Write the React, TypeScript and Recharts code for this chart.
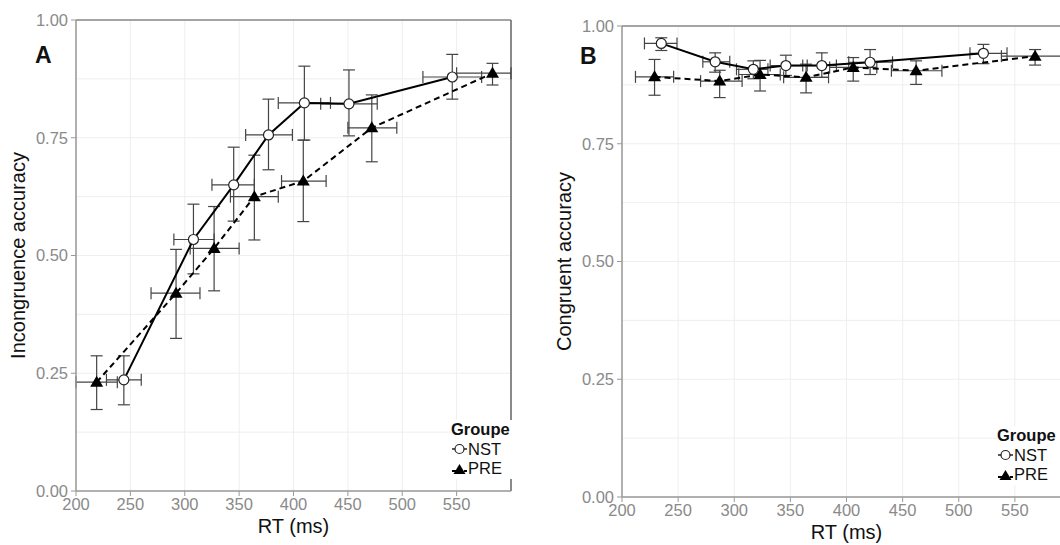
import {
  ScatterChart,
  Scatter,
  XAxis,
  YAxis,
  CartesianGrid,
  ErrorBar,
  ReferenceLine,
  Legend,
} from 'recharts'

const FONT = '"Liberation Sans", Arial, sans-serif'

// axis ticks and grid breaks (major + minor, as ggplot draws them)
const RT_TICKS = [200, 250, 300, 350, 400, 450, 500, 550]
const ACC_TICKS = [0, 0.25, 0.5, 0.75, 1]
const RT_GRID = [200, 225, 250, 275, 300, 325, 350, 375, 400, 425, 450, 475, 500, 525, 550, 575, 600]
const ACC_GRID = [0, 0.125, 0.25, 0.375, 0.5, 0.625, 0.75, 0.875, 1]

// Panel A: incongruent trials
const A_NST_RT = [244, 308, 345, 377, 410, 451, 546]
const A_NST_ACC = [0.236, 0.534, 0.65, 0.756, 0.824, 0.822, 0.879]
const A_NST_ACC_LO = [0.183, 0.461, 0.573, 0.682, 0.745, 0.754, 0.832]
const A_NST_ACC_HI = [0.287, 0.609, 0.73, 0.832, 0.902, 0.894, 0.927]
const A_NST_RT_LO = [228, 290, 325, 356, 386, 425, 519]
const A_NST_RT_HI = [260, 327, 364, 399, 434, 477, 573]

const A_PRE_RT = [219, 292, 327, 364, 409, 472, 583]
const A_PRE_ACC = [0.231, 0.42, 0.515, 0.625, 0.658, 0.771, 0.887]
const A_PRE_ACC_LO = [0.173, 0.324, 0.425, 0.533, 0.572, 0.699, 0.862]
const A_PRE_ACC_HI = [0.287, 0.513, 0.604, 0.713, 0.745, 0.841, 0.908]
const A_PRE_RT_LO = [200, 269, 305, 342, 389, 450, 550]
const A_PRE_RT_HI = [238, 314, 350, 386, 430, 495, 600]

// Panel B: congruent trials
const B_NST_RT = [235, 283, 317, 346, 378, 421, 522]
const B_NST_ACC = [0.963, 0.924, 0.908, 0.916, 0.916, 0.923, 0.942]
const B_NST_ACC_LO = [0.948, 0.902, 0.888, 0.895, 0.891, 0.897, 0.92]
const B_NST_ACC_HI = [0.975, 0.943, 0.926, 0.938, 0.943, 0.95, 0.961]
const B_NST_RT_LO = [220, 272, 302, 332, 365, 402, 510]
const B_NST_RT_HI = [249, 296, 330, 361, 391, 441, 543]

const B_PRE_RT = [229, 287, 323, 364, 406, 462, 568]
const B_PRE_ACC = [0.892, 0.883, 0.897, 0.891, 0.912, 0.905, 0.936]
const B_PRE_ACC_LO = [0.853, 0.848, 0.862, 0.858, 0.883, 0.876, 0.917]
const B_PRE_ACC_HI = [0.929, 0.906, 0.927, 0.919, 0.933, 0.926, 0.95]
const B_PRE_RT_LO = [212, 270, 304, 344, 385, 440, 538]
const B_PRE_RT_HI = [246, 307, 341, 384, 427, 485, 600]

function rows(rt: number[], acc: number[], lo: number[], hi: number[], rtLo: number[], rtHi: number[]) {
  return rt.map((x, i) => ({
    x,
    y: acc[i],
    ey: [acc[i] - lo[i], hi[i] - acc[i]],
    ex: [x - rtLo[i], rtHi[i] - x],
  }))
}

const OpenCircle = (p: any) => (
  <circle cx={p.cx} cy={p.cy} r={5} fill="#fff" stroke="#222" strokeWidth={1.2} />
)

const Triangle = (p: any) => (
  <polygon
    points={`${p.cx},${p.cy - 6.5} ${p.cx - 6.5},${p.cy + 4.5} ${p.cx + 6.5},${p.cy + 4.5}`}
    fill="#000"
  />
)

function GroupLegend() {
  return (
    <div style={{ fontFamily: FONT, fontSize: 16.5, lineHeight: '19.5px', color: '#111', background: '#fff' }}>
      <div style={{ fontWeight: 'bold' }}>Groupe</div>
      <div style={{ display: 'flex', alignItems: 'center' }}>
        <svg width={17} height={14}>
          <line x1={1} y1={7} x2={16} y2={7} stroke="#222" strokeWidth={1.5} />
          <circle cx={8.5} cy={7} r={4.5} fill="#fff" stroke="#222" strokeWidth={1.2} />
        </svg>
        <span>NST</span>
      </div>
      <div style={{ display: 'flex', alignItems: 'center' }}>
        <svg width={17} height={14}>
          <line x1={1} y1={9} x2={16} y2={9} stroke="#000" strokeWidth={2} strokeDasharray="4 2" />
          <polygon points="8.5,2 2.5,12 14.5,12" fill="#000" />
        </svg>
        <span>PRE</span>
      </div>
    </div>
  )
}

function Panel({
  left,
  width,
  margin,
  yLabel,
  nst,
  pre,
  legendTop,
}: {
  left: number
  width: number
  margin: { top: number; right: number; bottom: number; left: number }
  yLabel: string
  nst: any[]
  pre: any[]
  legendTop: number
}) {
  return (
    <div style={{ position: 'absolute', left, top: 0 }}>
      <ScatterChart width={width} height={545} margin={margin}>
        <CartesianGrid horizontalValues={ACC_GRID} verticalValues={RT_GRID} stroke="#eeeeee" />
        <XAxis
          type="number"
          dataKey="x"
          domain={[200, 600]}
          ticks={RT_TICKS}
          allowDataOverflow
          height={45}
          tickSize={5}
          tickMargin={2}
          tick={{ fontSize: 16.5, fill: '#8a8a8a', fontFamily: FONT }}
          tickLine={{ stroke: '#999' }}
          axisLine={{ stroke: '#999', strokeWidth: 1.5 }}
          label={{
            value: 'RT (ms)',
            position: 'insideBottom',
            offset: 3,
            style: { fontSize: 20, fill: '#111', fontFamily: FONT },
          }}
        />
        <YAxis
          type="number"
          dataKey="y"
          domain={[0, 1]}
          ticks={ACC_TICKS}
          allowDataOverflow
          width={76}
          tickSize={5}
          tickMargin={3}
          tickFormatter={(v: number) => v.toFixed(2)}
          tick={{ fontSize: 16.5, fill: '#8a8a8a', fontFamily: FONT }}
          tickLine={{ stroke: '#999' }}
          axisLine={{ stroke: '#999', strokeWidth: 1.5 }}
          label={{
            value: yLabel,
            angle: -90,
            position: 'insideLeft',
            offset: 18,
            style: { textAnchor: 'middle', fontSize: 20, fill: '#111', fontFamily: FONT },
          }}
        />
        <ReferenceLine y={1} stroke="#888" strokeWidth={1.5} />
        <ReferenceLine x={600} stroke="#666" strokeWidth={1.5} />
        <Scatter
          name="PRE"
          data={pre}
          shape={Triangle}
          line={{ stroke: '#000', strokeWidth: 2, strokeDasharray: '6 4' }}
          lineJointType="linear"
          isAnimationActive={false}
        >
          <ErrorBar dataKey="ey" direction="y" width={6} stroke="#444" strokeWidth={1.2} isAnimationActive={false} />
          <ErrorBar dataKey="ex" direction="x" width={6} stroke="#444" strokeWidth={1.2} isAnimationActive={false} />
        </Scatter>
        <Scatter
          name="NST"
          data={nst}
          shape={OpenCircle}
          line={{ stroke: '#000', strokeWidth: 2 }}
          lineJointType="linear"
          isAnimationActive={false}
        >
          <ErrorBar dataKey="ey" direction="y" width={6} stroke="#444" strokeWidth={1.2} isAnimationActive={false} />
          <ErrorBar dataKey="ex" direction="x" width={6} stroke="#444" strokeWidth={1.2} isAnimationActive={false} />
        </Scatter>
        <Legend
          layout="horizontal"
          verticalAlign="middle"
          align="center"
          content={() => <GroupLegend />}
          wrapperStyle={{ left: 451, top: legendTop, width: 72, height: 60 }}
        />
      </ScatterChart>
    </div>
  )
}

export default function App() {
  const aNst = rows(A_NST_RT, A_NST_ACC, A_NST_ACC_LO, A_NST_ACC_HI, A_NST_RT_LO, A_NST_RT_HI)
  const aPre = rows(A_PRE_RT, A_PRE_ACC, A_PRE_ACC_LO, A_PRE_ACC_HI, A_PRE_RT_LO, A_PRE_RT_HI)
  const bNst = rows(B_NST_RT, B_NST_ACC, B_NST_ACC_LO, B_NST_ACC_HI, B_NST_RT_LO, B_NST_RT_HI)
  const bPre = rows(B_PRE_RT, B_PRE_ACC, B_PRE_ACC_LO, B_PRE_ACC_HI, B_PRE_RT_LO, B_PRE_RT_HI)

  const letter = { position: 'absolute' as const, fontFamily: FONT, fontWeight: 'bold' as const, fontSize: 23, lineHeight: 1, color: '#111' }

  return (
    <div style={{ position: 'fixed', left: 0, top: 0, width: 1060, height: 545, overflow: 'hidden', background: '#fff' }}>
      <Panel
        left={0}
        width={530}
        margin={{ top: 20, right: 19, bottom: 9, left: 0 }}
        yLabel="Incongruence accuracy"
        nst={aNst}
        pre={aPre}
        legendTop={420}
      />
      <Panel
        left={546}
        width={535}
        margin={{ top: 26, right: 10, bottom: 3, left: 0 }}
        yLabel="Congruent accuracy"
        nst={bNst}
        pre={bPre}
        legendTop={426}
      />
      <div style={{ ...letter, left: 35, top: 44 }}>A</div>
      <div style={{ ...letter, left: 580, top: 45 }}>B</div>
    </div>
  )
}
